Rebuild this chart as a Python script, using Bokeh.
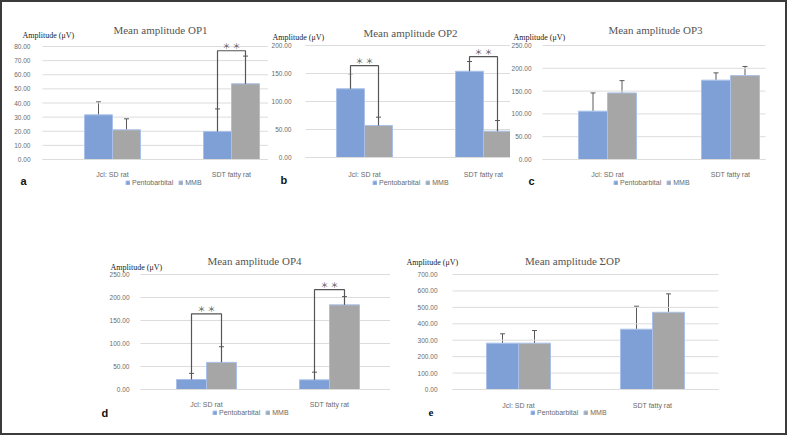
from bokeh.plotting import figure
from bokeh.layouts import row, column
from bokeh.models import (ColumnDataSource, Range1d, FixedTicker, NumeralTickFormatter,
                          Label, Legend, LegendItem, Whisker, TeeHead)
from bokeh.embed import file_html
from bokeh.resources import INLINE

# ---------------- data ----------------
groups = ["Jcl: SD rat", "SDT fatty rat"]
series_names = ["Pentobarbital", "MMB"]
y_label = "Amplitude (μV)"
sig_text = "＊ ＊"

op1_title = "Mean amplitude OP1"
op1_pento = [31.6, 19.8]
op1_pento_sd = [9.2, 16.0]
op1_mmb = [21.0, 53.6]
op1_mmb_sd = [7.8, 19.6]
op1_sig_groups = [1]
op1_sig_tops = [77.0]
op1_ticks = [0, 10, 20, 30, 40, 50, 60, 70, 80]

op2_title = "Mean amplitude OP2"
op2_pento = [122.7, 154.0]
op2_pento_sd = [26.8, 17.4]
op2_mmb = [57.1, 47.0]
op2_mmb_sd = [14.9, 19.0]
op2_sig_groups = [0, 1]
op2_sig_tops = [164.0, 180.0]
op2_ticks = [0, 50, 100, 150, 200]

op3_title = "Mean amplitude OP3"
op3_pento = [106.0, 174.0]
op3_pento_sd = [40.0, 16.0]
op3_mmb = [146.0, 184.0]
op3_mmb_sd = [27.0, 20.0]
op3_sig_groups = []
op3_sig_tops = []
op3_ticks = [0, 50, 100, 150, 200, 250]

op4_title = "Mean amplitude OP4"
op4_pento = [21.7, 21.0]
op4_pento_sd = [13.3, 16.7]
op4_mmb = [59.0, 184.0]
op4_mmb_sd = [34.0, 18.0]
op4_sig_groups = [0, 1]
op4_sig_tops = [164.5, 217.0]
op4_ticks = [0, 50, 100, 150, 200, 250]

sop_title = "Mean amplitude ΣOP"
sop_pento = [282.0, 367.0]
sop_pento_sd = [57.0, 140.0]
sop_mmb = [282.0, 470.0]
sop_mmb_sd = [77.0, 112.0]
sop_sig_groups = []
sop_sig_tops = []
sop_ticks = [0, 100, 200, 300, 400, 500, 600, 700]

# ---------------- styles ----------------
BLUE = "#7ea0d7"
GRAY = "#a6a6a6"
EDGE = "#a9c1ea"
GRID = "#dcdcdc"
ERR = "#5a5a5a"
TXT = "#6a6a6a"
SANS = "Liberation Sans"
SERIF = "Liberation Serif"

# page geometry (pixels in the 787x435 page)
geoms = [
    dict(fig=(2, 2, 266, 213), frame=(42, 46, 268, 159), c=(112, 231), bar=28,
         ystand=6, xstand=5, title=(160, 29), ylab=(22, 35), letter=(20, 180),
         letter_font=SANS, legend=(125, 182)),
    dict(fig=(268, 2, 242, 213), frame=(305, 45, 510, 157), c=(364, 483), bar=28,
         ystand=8, xstand=7, title=(410, 32), ylab=(272, 37), letter=(280, 179),
         letter_font=SANS, legend=(372, 182)),
    dict(fig=(510, 2, 275, 213), frame=(542, 45, 765, 159), c=(607, 730), bar=29,
         ystand=5, xstand=5, title=(655, 29), ylab=(513, 37), letter=(528, 180),
         letter_font=SANS, legend=(613, 182)),
    dict(fig=(2, 215, 388, 218), frame=(140, 274, 390, 389), c=(206, 329), bar=30,
         ystand=5, xstand=5, title=(254, 260), ylab=(110, 267), letter=(101, 412),
         letter_font=SANS, legend=(212, 412)),
    dict(fig=(390, 215, 395, 218), frame=(452, 274, 718, 389), c=(518, 652), bar=32,
         ystand=9, xstand=6, title=(572, 260), ylab=(406, 262), letter=(428, 412),
         letter_font=SERIF, legend=(530, 412)),
]

panels_data = [
    (op1_title, "a", op1_pento, op1_pento_sd, op1_mmb, op1_mmb_sd, op1_sig_groups, op1_sig_tops, op1_ticks),
    (op2_title, "b", op2_pento, op2_pento_sd, op2_mmb, op2_mmb_sd, op2_sig_groups, op2_sig_tops, op2_ticks),
    (op3_title, "c", op3_pento, op3_pento_sd, op3_mmb, op3_mmb_sd, op3_sig_groups, op3_sig_tops, op3_ticks),
    (op4_title, "d", op4_pento, op4_pento_sd, op4_mmb, op4_mmb_sd, op4_sig_groups, op4_sig_tops, op4_ticks),
    (sop_title, "e", sop_pento, sop_pento_sd, sop_mmb, sop_mmb_sd, sop_sig_groups, sop_sig_tops, sop_ticks),
]


def make_panel(g, d):
    title, letter, pento, pento_sd, mmb, mmb_sd, sig_groups, sig_tops, ticks = d
    x0, y0, w, h = g["fig"]
    fl, ft, fr, fb = g["frame"]
    c0, c1 = g["c"]
    ymax = ticks[-1]
    sx = float(c1 - c0)            # px per category unit
    sy = (fb - ft) / float(ymax)   # px per value unit
    # whole figure is the Bokeh frame; the plot area is a sub-region of it
    xr = Range1d(-(c0 - x0) / sx, 1 + (x0 + w - c1) / sx)
    yr = Range1d(-(y0 + h - fb) / sy, ymax + (ft - y0) / sy)
    pl = -(c0 - fl) / sx
    pr = 1 + (fr - c1) / sx
    p = figure(width=w, height=h, output_backend="svg", toolbar_location=None,
               x_range=xr, y_range=yr, min_border=0,
               min_border_left=0, min_border_right=0, min_border_top=0, min_border_bottom=0)
    p.outline_line_color = None
    p.background_fill_color = "white"
    p.border_fill_color = "white"
    p.xgrid.grid_line_color = None
    p.ygrid.grid_line_color = None

    # horizontal gridlines limited to the plot area
    p.segment(x0=[pl] * len(ticks), x1=[pr] * len(ticks), y0=ticks, y1=ticks,
              line_color=GRID, line_width=1)

    bw = g["bar"] / sx
    xs = list(range(len(groups)))
    src = ColumnDataSource(dict(
        xp=[x - bw / 2 for x in xs], xm=[x + bw / 2 for x in xs],
        pento=pento, mmb=mmb,
        pento_hi=[v + e for v, e in zip(pento, pento_sd)],
        mmb_hi=[v + e for v, e in zip(mmb, mmb_sd)],
    ))
    rb = p.vbar(x="xp", top="pento", width=bw, source=src, fill_color=BLUE,
                line_color=EDGE, line_width=1)
    rg = p.vbar(x="xm", top="mmb", width=bw, source=src, fill_color=GRAY,
                line_color=EDGE, line_width=1)
    for col_x, lo, hi in (("xp", "pento", "pento_hi"), ("xm", "mmb", "mmb_hi")):
        p.add_layout(Whisker(source=src, base=col_x, lower=lo, upper=hi, dimension="height",
                             line_color=ERR, line_width=1, lower_head=None,
                             upper_head=TeeHead(size=5, line_color=ERR, line_width=1)))

    # significance brackets
    bx, by = [], []
    for gi, top in zip(sig_groups, sig_tops):
        bx.append([gi - bw / 2, gi - bw / 2, gi + bw / 2, gi + bw / 2])
        by.append([pento[gi], top, top, mmb[gi]])
        p.add_layout(Label(x=gi, y=top, text=sig_text, text_align="center",
                           text_baseline="bottom", y_offset=0, text_font_size="8px",
                           text_color="#555555", text_font="Noto Sans CJK JP"))
    if bx:
        p.multi_line(xs=bx, ys=by, line_color="#555555", line_width=1.2)

    # axes drawn at fixed locations inside the frame
    p.yaxis.fixed_location = pl
    p.yaxis.bounds = (0, ymax)
    p.yaxis.ticker = FixedTicker(ticks=ticks)
    p.yaxis.formatter = NumeralTickFormatter(format="0.00")
    p.yaxis.axis_line_color = None
    p.yaxis.major_tick_line_color = None
    p.yaxis.minor_tick_line_color = None
    p.yaxis.major_label_standoff = g["ystand"]
    p.yaxis.major_label_text_font_size = "6.5px"
    p.yaxis.major_label_text_color = TXT
    p.yaxis.major_label_text_font = SANS

    p.xaxis.fixed_location = 0
    p.xaxis.bounds = (pl, pr)
    p.xaxis.ticker = FixedTicker(ticks=xs)
    p.xaxis.major_label_overrides = {i: name for i, name in zip(xs, groups)}
    p.xaxis.axis_line_color = GRID
    p.xaxis.major_tick_line_color = None
    p.xaxis.minor_tick_line_color = None
    p.xaxis.major_label_standoff = g["xstand"]
    p.xaxis.major_label_text_font_size = "7px"
    p.xaxis.major_label_text_color = TXT
    p.xaxis.major_label_text_font = SANS

    # texts (screen units relative to the frame = figure)
    def page_label(px, py, text, **kw):
        p.add_layout(Label(x=px - x0, y=(y0 + h) - py, x_units="screen", y_units="screen",
                           text=text, text_baseline="middle", **kw))

    page_label(g["title"][0], g["title"][1], title, text_align="center",
               text_font=SERIF, text_font_size="11px", text_color="#555555")
    page_label(g["ylab"][0], g["ylab"][1], y_label, text_align="left",
               text_font=SERIF, text_font_size="8px", text_color="#1a1a1a")
    page_label(g["letter"][0], g["letter"][1], letter, text_align="left",
               text_font=g["letter_font"], text_font_size="11px", text_color="#111111",
               text_font_style="bold")

    lx, ly = g["legend"]
    legend = Legend(items=[LegendItem(label=series_names[0], renderers=[rb]),
                           LegendItem(label=series_names[1], renderers=[rg])],
                    orientation="horizontal", location=(lx - x0, (y0 + h) - (ly + 4)),
                    glyph_width=5, glyph_height=5, label_height=8, label_standoff=2,
                    spacing=5, padding=0, margin=0, border_line_color=None,
                    background_fill_alpha=0, label_text_font_size="7px",
                    label_text_color=TXT, label_text_font=SANS)
    p.add_layout(legend)
    return p


figs = [make_panel(g, d) for g, d in zip(geoms, panels_data)]
top = row(figs[0], figs[1], figs[2], styles={"background-color": "white"})
bottom = row(figs[3], figs[4], styles={"background-color": "white"})
inner = column(top, bottom, styles={"background-color": "white"})
layout = column(inner, styles={"background-color": "#3b3b3b", "padding": "2px"})

open("out.html", "w").write(file_html(layout, INLINE))
